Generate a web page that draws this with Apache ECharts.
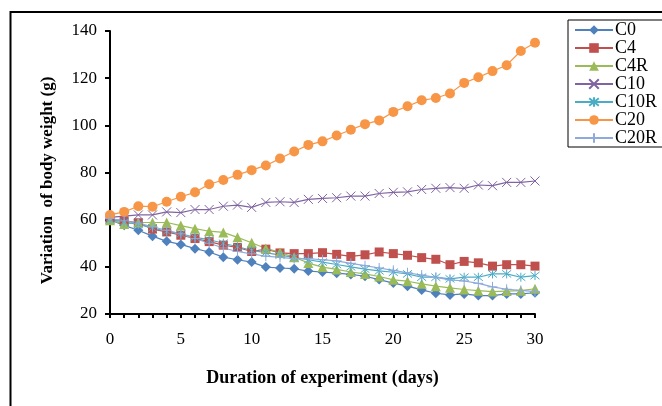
<!DOCTYPE html>
<html>
<head>
<meta charset="utf-8">
<script src="https://cdn.jsdelivr.net/npm/echarts@6/dist/echarts.min.js"></script>
<style>
  html, body { margin: 0; padding: 0; background: #fff; }
  #chart { width: 662px; height: 406px; }
</style>
</head>
<body>
<div id="chart"></div>
<script>
// days on the x axis
const days = [0, 1, 2, 3, 4, 5, 6, 7, 8, 9, 10, 11, 12, 13, 14, 15, 16, 17, 18, 19, 20,
  21, 22, 23, 24, 25, 26, 27, 28, 29, 30]

// body weight (g)
const c0 = [60, 57.6, 55.5, 53, 50.8, 49.5, 47.7, 46.3, 44.1, 43, 42, 39.9, 39.5, 39.2, 38.2, 37.8,
  37.3, 36.8, 36, 34.6, 33.1, 31.8, 30.2, 28.8, 28.1, 28.5, 27.8, 27.8, 28.5, 28.5, 29]
const c4 = [60.2, 59.5, 58.7, 56, 54.8, 53.4, 52, 50.7, 49.2, 48.2, 46.5, 47.5, 45.9, 45.6, 45.6, 46,
  45.3, 44.4, 45.1, 46.3, 45.6, 44.9, 43.9, 43.2, 40.9, 42.3, 41.7, 40.3, 40.9, 40.9, 40.3]
const c4r = [59.8, 58.2, 58.8, 58.8, 58.8, 57.5, 56.2, 55.1, 54.6, 52.5, 50.2, 47.8, 46.1, 44.1, 41.6, 39.9,
  38.9, 37.8, 37, 35.9, 34.5, 33.9, 32.8, 31.8, 31.1, 30.4, 29.9, 29.5, 29.7, 29.9, 30.7]
const c10 = [61, 61.5, 62, 62, 63.3, 63, 64.3, 64.3, 65.7, 66.2, 65.2, 67.3, 67.6, 67.3, 68.6, 69,
  69.3, 70, 70, 71.1, 71.6, 71.8, 72.8, 73.3, 73.6, 73.3, 74.7, 74.4, 75.8, 75.8, 76.4]
const c10r = [60, 59, 58, 56.5, 55, 54, 52.5, 51.5, 50, 48.5, 47, 46, 45, 44, 43, 42,
  41, 40, 39, 38.3, 37.7, 37, 35.6, 35.6, 34.9, 35.6, 35.6, 37, 37, 35.6, 36.3]
const c20 = [62, 63.3, 65.7, 65.5, 67.6, 69.7, 71.6, 75, 76.8, 79, 81, 83, 85.9, 88.9, 91.7, 93.2,
  95.7, 98.1, 100.5, 102.1, 105.7, 108.1, 110.6, 111.6, 113.5, 118, 120.4, 123, 125.5, 131.5, 135]
const c20r = [60.5, 59.5, 58.5, 57, 55.5, 54, 52, 50, 48, 46.5, 45.5, 44.5, 44, 43.5, 43.5, 43,
  42.5, 41.5, 40.5, 39.5, 38.5, 37.5, 36.5, 35.5, 34.5, 34, 33, 31.5, 30.5, 30, 29.5]

const yTicks = { min: 20, max: 140, interval: 20 }

const SERIF = '"Liberation Serif", "DejaVu Serif", serif'

const X_MARK = 'path://M0,0L10,10M10,0L0,10'
const STAR_MARK = 'path://M5,0L5,10M1,1L9,9M9,1L1,9'
const PLUS_MARK = 'path://M5,0L5,10M0,5L10,5'

const SERIES = [
  { name: 'C0', data: c0, color: '#4F81BD', symbol: 'diamond', size: 10 },
  { name: 'C4', data: c4, color: '#C0504D', symbol: 'rect', size: 9 },
  { name: 'C4R', data: c4r, color: '#9BBB59', symbol: 'triangle', size: 10 },
  { name: 'C10', data: c10, color: '#8064A2', symbol: X_MARK, size: 9, stroke: true },
  { name: 'C10R', data: c10r, color: '#4BACC6', symbol: STAR_MARK, size: 9, stroke: true },
  { name: 'C20', data: c20, color: '#F79646', symbol: 'circle', size: 10 },
  { name: 'C20R', data: c20r, color: '#8EA9DB', symbol: PLUS_MARK, size: 10, stroke: true }
]

const chart = echarts.init(document.getElementById('chart'))

chart.setOption({
  animation: false,
  backgroundColor: '#fff',
  graphic: [{
    type: 'rect',
    shape: { x: 10.5, y: 12, width: 700, height: 450 },
    style: { fill: 'none', stroke: '#000', lineWidth: 2 },
    silent: true
  }],
  legend: {
    orient: 'vertical',
    left: 568,
    top: 20,
    itemWidth: 38,
    itemHeight: 12,
    itemGap: 0,
    padding: [1, 10, 0, 6],
    borderColor: '#000',
    borderWidth: 1,
    textStyle: { fontFamily: SERIF, fontSize: 18, color: '#000', lineHeight: 17.6, padding: [0, 0, 0, -3] },
    data: SERIES.map(s => s.name)
  },
  grid: { left: 110, right: 127, top: 31, bottom: 92, containLabel: false },
  xAxis: {
    type: 'category',
    data: days,
    boundaryGap: false,
    name: 'Duration of experiment (days)',
    nameLocation: 'middle',
    nameGap: 55,
    nameTextStyle: { fontFamily: SERIF, fontSize: 18, fontWeight: 'bold', color: '#000' },
    axisLine: { lineStyle: { color: '#000', width: 2 } },
    axisTick: { interval: 0, length: 4, lineStyle: { color: '#000', width: 2 } },
    axisLabel: { interval: 4, margin: 17, fontFamily: SERIF, fontSize: 17, color: '#000' },
    splitLine: { show: false }
  },
  yAxis: {
    type: 'value',
    min: yTicks.min,
    max: yTicks.max,
    interval: yTicks.interval,
    name: 'Variation  of body weight (g)',
    nameLocation: 'middle',
    nameGap: 54,
    nameTextStyle: { fontFamily: SERIF, fontSize: 17, fontWeight: 'bold', color: '#000', padding: [0, 16, 0, 0] },
    axisLine: { show: true, lineStyle: { color: '#000', width: 2 } },
    axisTick: { show: true, length: 5, lineStyle: { color: '#000', width: 2 } },
    axisLabel: { margin: 13, fontFamily: SERIF, fontSize: 17, color: '#000' },
    splitLine: { show: false }
  },
  series: SERIES.map(s => ({
    name: s.name,
    type: 'line',
    data: s.data,
    symbol: s.symbol,
    symbolSize: s.size,
    showSymbol: true,
    showAllSymbol: true,
    lineStyle: { color: s.color, width: 1.2 },
    itemStyle: s.stroke
      ? { color: s.color, borderColor: s.color, borderWidth: 1 }
      : { color: s.color, borderWidth: 0 },
    emphasis: { disabled: true }
  }))
})
</script>
</body>
</html>
